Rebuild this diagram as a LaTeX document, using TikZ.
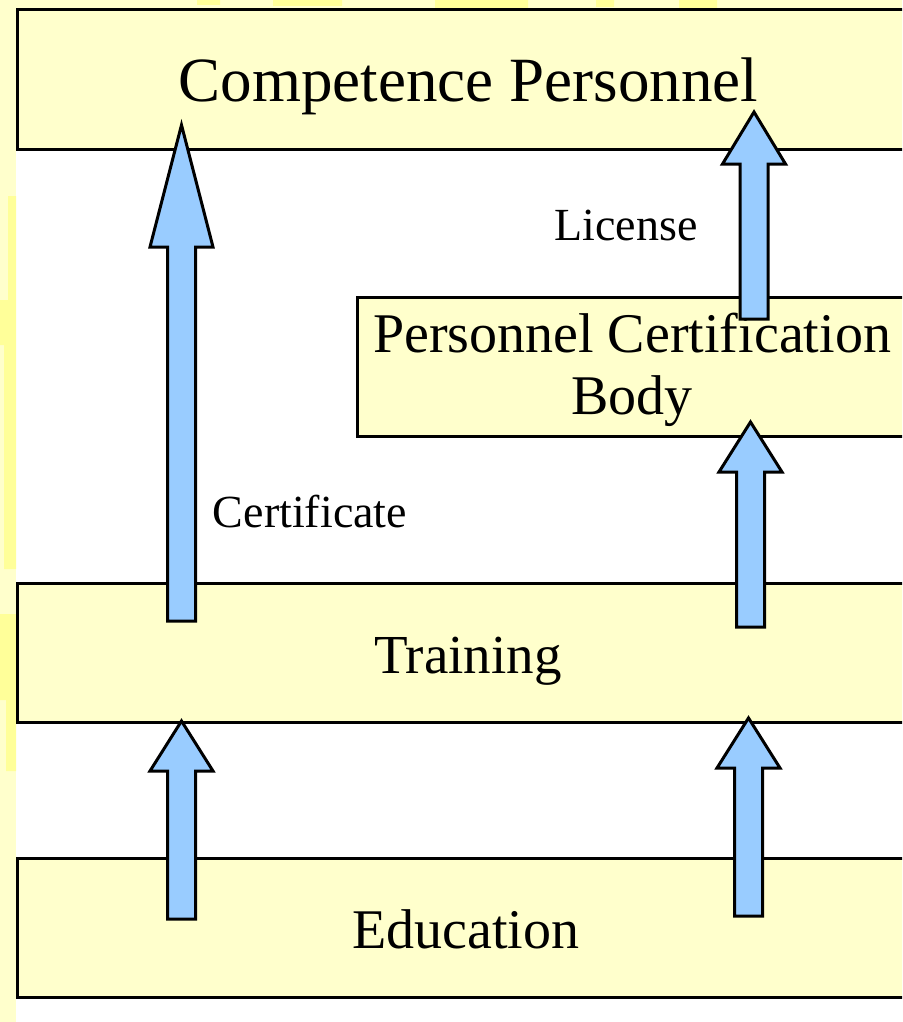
\documentclass[tikz,border=0pt]{standalone}
\usepackage{fontspec}
\setmainfont{Liberation Serif}
\usetikzlibrary{calc}

\definecolor{boxyellow}{HTML}{FFFFCC}
\definecolor{glowyellow}{HTML}{FFFF99}
\definecolor{arrowblue}{HTML}{99CCFF}

\tikzset{
  layer/.style={rectangle, draw=black, line width=3pt, fill=boxyellow, inner sep=0pt, minimum height=139pt},
  tag/.style={inner sep=0pt, font=\fontsize{46}{50}\selectfont},
  arrowbody/.style={draw=black, line width=3pt, fill=arrowblue, line join=miter}
}

% block arrow from a base coordinate up to a tip coordinate, #3 = head length
\newcommand{\blockarrow}[3]{%
  \draw[arrowbody] ($(#1)+(-14,0)$) -- ($(#2)+(-14,#3)$) -- ($(#2)+(-31.5,#3)$) -- (#2)
    -- ($(#2)+(31.5,#3)$) -- ($(#2)+(14,#3)$) -- ($(#1)+(14,0)$) -- cycle;}

\begin{document}
\begin{tikzpicture}[x=1pt, y=-1pt]
\useasboundingbox (0,0) rectangle (902,1022);
\begin{scope}
\clip (0,0) rectangle (902,1022);
% slide background
\fill[white] (0,0) rectangle (902,1022);
\fill[boxyellow] (0,0) rectangle (16,1022);
\fill[boxyellow] (0,0) rectangle (902,9);
\fill[glowyellow] (8,196) rectangle (16,300) (0,300) rectangle (16,345) (4,345) rectangle (16,569) (0,614) rectangle (16,700) (6,700) rectangle (16,771);
\fill[glowyellow] (197,0) rectangle (220,5) (273,0) rectangle (342,6) (435,0) rectangle (528,8) (596,0) rectangle (614,7) (679,0) rectangle (717,8);

% layers
\node (comp) [layer, minimum width=902pt, text height=45pt, text depth=0pt, font=\fontsize{63}{68}\selectfont] at (468.5,79.5) {Competence Personnel};
\node (pcb) [layer, minimum width=550pt, align=center, font=\fontsize{56}{62}\selectfont] at (632,366.5) {\rule{0pt}{47pt}Personnel Certification\\Body};
\node (train) [layer, minimum width=902pt, text height=41pt, text depth=0pt, font=\fontsize{55}{60}\selectfont] at (468,652.5) {Training};
\node (edu) [layer, minimum width=898pt, text height=41pt, text depth=0pt, font=\fontsize{56}{61}\selectfont] at (466,927.5) {Education};

% labels
\node (license) [tag] at (626,225) {License};
\node (certificate) [tag] at (310,512) {Certificate};

% arrow ends
\coordinate (certbase) at (181.5,621);
\coordinate (certtip) at (181.5,125);
\coordinate (licbase) at (754,319);
\coordinate (lictip) at (754,112);
\coordinate (pcbbase) at (750.5,627);
\coordinate (pcbtip) at (750.5,422);
\coordinate (eduleftbase) at (181.5,919);
\coordinate (edulefttip) at (181.5,721);
\coordinate (edurightbase) at (748.5,916);
\coordinate (edurighttip) at (748.5,718);

\blockarrow{certbase}{certtip}{122}
\blockarrow{licbase}{lictip}{52}
\blockarrow{pcbbase}{pcbtip}{50}
\blockarrow{eduleftbase}{edulefttip}{50}
\blockarrow{edurightbase}{edurighttip}{50}
\end{scope}
\end{tikzpicture}
\end{document}
